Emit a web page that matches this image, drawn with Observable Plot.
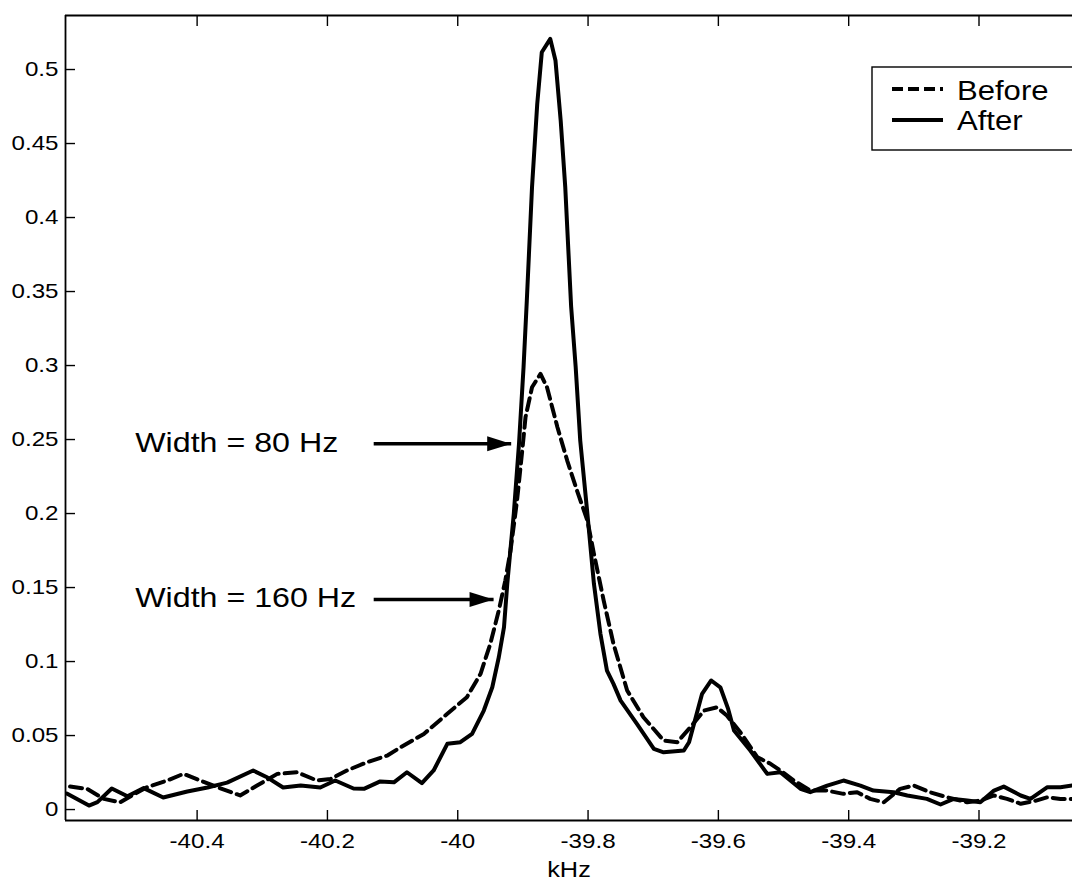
<!DOCTYPE html>
<html><head><meta charset="utf-8">
<script src="https://cdn.jsdelivr.net/npm/d3@7"></script>
<script src="https://cdn.jsdelivr.net/npm/@observablehq/plot@0.6"></script>
<style>body{margin:0;background:#fff}#chart svg{display:block}</style>
</head><body><div id="chart"></div>
<script>
// ---- data ----
const xTicks = [-40.4, -40.2, -40, -39.8, -39.6, -39.4, -39.2];
const yTicks = [0, 0.05, 0.1, 0.15, 0.2, 0.25, 0.3, 0.35, 0.4, 0.45, 0.5];
const xDomain = [-40.602, -39.0565];
const yDomain = [-0.0074, 0.5365];
const xLabel = "kHz";
const seriesNames = ["Before", "After"];

const beforeX = [-40.595,-40.569,-40.543,-40.518,-40.500,-40.477,-40.446,-40.421,-40.395,-40.369,-40.334,-40.308,-40.277,-40.247,-40.216,-40.195,-40.170,-40.139,-40.108,-40.088,-40.052,-40.016,-39.986,-39.965,-39.950,-39.937,-39.927,-39.919,-39.909,-39.901,-39.896,-39.886,-39.873,-39.863,-39.847,-39.832,-39.817,-39.801,-39.791,-39.776,-39.761,-39.740,-39.715,-39.684,-39.663,-39.643,-39.622,-39.602,-39.587,-39.566,-39.540,-39.520,-39.505,-39.484,-39.459,-39.433,-39.408,-39.387,-39.367,-39.346,-39.321,-39.300,-39.275,-39.249,-39.218,-39.198,-39.177,-39.157,-39.136,-39.116,-39.095,-39.075,-39.057];
const beforeY = [0.0155,0.0140,0.0072,0.0049,0.0095,0.0151,0.0196,0.0241,0.0196,0.0151,0.0095,0.0162,0.0241,0.0252,0.0196,0.0207,0.0264,0.0320,0.0365,0.0420,0.0511,0.0647,0.0759,0.0917,0.1120,0.1345,0.1547,0.1750,0.2088,0.2426,0.2651,0.2853,0.2944,0.2853,0.2583,0.2358,0.2155,0.1953,0.1728,0.1412,0.1120,0.0804,0.0624,0.0466,0.0455,0.0556,0.0669,0.0691,0.0635,0.0520,0.0353,0.0309,0.0264,0.0196,0.0128,0.0128,0.0106,0.0117,0.0072,0.0049,0.0140,0.0162,0.0117,0.0083,0.0049,0.0061,0.0095,0.0072,0.0039,0.0056,0.0083,0.0072,0.0072];

const afterX = [-40.600,-40.566,-40.553,-40.531,-40.507,-40.482,-40.452,-40.415,-40.384,-40.354,-40.314,-40.292,-40.268,-40.241,-40.211,-40.188,-40.160,-40.144,-40.119,-40.098,-40.078,-40.055,-40.037,-40.016,-39.996,-39.978,-39.960,-39.947,-39.937,-39.929,-39.924,-39.914,-39.906,-39.899,-39.894,-39.886,-39.878,-39.871,-39.858,-39.850,-39.842,-39.835,-39.826,-39.819,-39.812,-39.801,-39.791,-39.781,-39.771,-39.761,-39.750,-39.725,-39.699,-39.684,-39.653,-39.645,-39.625,-39.611,-39.597,-39.585,-39.576,-39.551,-39.525,-39.505,-39.474,-39.459,-39.433,-39.408,-39.382,-39.362,-39.331,-39.310,-39.280,-39.259,-39.239,-39.218,-39.198,-39.177,-39.162,-39.136,-39.121,-39.095,-39.075,-39.057];
const afterY = [0.0108,0.0027,0.0050,0.0142,0.0090,0.0145,0.0081,0.0122,0.0149,0.0182,0.0264,0.0216,0.0149,0.0162,0.0149,0.0196,0.0142,0.0140,0.0190,0.0184,0.0252,0.0178,0.0264,0.0444,0.0455,0.0511,0.0669,0.0826,0.1029,0.1232,0.1525,0.1998,0.2471,0.2989,0.3439,0.4205,0.4768,0.5117,0.5207,0.5061,0.4655,0.4205,0.3400,0.2989,0.2493,0.1998,0.1525,0.1187,0.0939,0.0849,0.0736,0.0579,0.0410,0.0387,0.0399,0.0455,0.0782,0.0872,0.0826,0.0680,0.0534,0.0399,0.0241,0.0252,0.0140,0.0117,0.0162,0.0196,0.0162,0.0128,0.0117,0.0095,0.0072,0.0034,0.0072,0.0061,0.0049,0.0128,0.0155,0.0095,0.0072,0.0151,0.0151,0.0162];

const noteText = ["Width = 80 Hz", "Width = 160 Hz"];
const noteX = [-40.495, -40.495];
const noteY = [0.2476, 0.1428];
const arrowX1 = [-40.129, -40.129];
const arrowX2 = [-39.918, -39.945];
const arrowY = [0.2471, 0.1419];

// ---- build ----
const before = beforeX.map((x, i) => ({x, y: beforeY[i]}));
const after = afterX.map((x, i) => ({x, y: afterY[i]}));
const notes = noteText.map((t, i) => ({t, x: noteX[i], y: noteY[i]}));
const arrows = arrowX1.map((x1, i) => ({x1, x2: arrowX2[i], y: arrowY[i]}));

const headSymbol = {
  draw(ctx) { ctx.moveTo(0, 0); ctx.lineTo(-24, -7.5); ctx.lineTo(-24, 7.5); ctx.closePath(); }
};

const fmtY = d => String(+d.toFixed(2));
const fmtX = d => String(+d.toFixed(1));

const plot = Plot.plot({
  width: 1072,
  height: 882,
  marginLeft: 65,
  marginRight: 0,
  marginTop: 15,
  marginBottom: 62,
  style: {fontFamily: "'Liberation Sans', Arial, sans-serif", fontSize: "21px", background: "#fff", color: "#000"},
  x: {domain: xDomain},
  y: {domain: yDomain},
  marks: [
    Plot.axisY({ticks: yTicks, anchor: "left", tickSize: -10, tickPadding: 17, tickFormat: fmtY, label: null, strokeWidth: 1.4}),
    Plot.axisX({ticks: xTicks, anchor: "bottom", tickSize: -10, tickPadding: 23, tickFormat: fmtX, label: null, strokeWidth: 1.4}),
    Plot.axisX({ticks: xTicks, anchor: "top", tickSize: -10, tickFormat: () => "", label: null, strokeWidth: 1.4}),
    Plot.ruleX([xDomain[0]], {stroke: "#000", strokeWidth: 1.8}),
    Plot.ruleY([yDomain[0], yDomain[1]], {stroke: "#000", strokeWidth: 1.8}),
    Plot.line(before, {x: "x", y: "y", stroke: "#000", strokeWidth: 4, strokeDasharray: "12,6", clip: true}),
    Plot.line(after, {x: "x", y: "y", stroke: "#000", strokeWidth: 4, clip: true}),
    Plot.text(notes, {x: "x", y: "y", text: "t", textAnchor: "start", lineAnchor: "middle", fontSize: 28, fill: "#000"}),
    Plot.link(arrows, {x1: "x1", x2: "x2", y1: "y", y2: "y", stroke: "#000", strokeWidth: 3.5}),
    Plot.dot(arrows, {x: "x2", y: "y", symbol: headSymbol, fill: "#000", stroke: "none"}),
    Plot.text([xLabel], {frameAnchor: "bottom", dy: 41, lineAnchor: "top", fontSize: 22, fill: "#000"})
  ]
});
document.getElementById("chart").appendChild(plot);

// ---- legend (inside the axes, top right) ----
const svg = d3.select(plot);
const lg = svg.append("g").attr("font-family", "'Liberation Sans', Arial, sans-serif")
  .attr("font-size", 27).attr("text-anchor", "start");
lg.append("rect").attr("x", 872).attr("y", 67).attr("width", 220).attr("height", 83)
  .attr("fill", "#fff").attr("stroke", "#000").attr("stroke-width", 1.4);
lg.append("line").attr("x1", 892).attr("x2", 943).attr("y1", 89).attr("y2", 89)
  .attr("stroke", "#000").attr("stroke-width", 3.8).attr("stroke-dasharray", "11,5");
lg.append("line").attr("x1", 892).attr("x2", 943).attr("y1", 120).attr("y2", 120)
  .attr("stroke", "#000").attr("stroke-width", 3.8);
lg.append("text").attr("x", 957).attr("y", 100).attr("text-anchor", "start").text(seriesNames[0]);
lg.append("text").attr("x", 957).attr("y", 130).attr("text-anchor", "start").text(seriesNames[1]);

// the scanned original is slightly stretched horizontally
plot.querySelectorAll("text").forEach(t => {
  const len = t.getComputedTextLength();
  if (len > 0) { t.setAttribute("textLength", (len * 1.15).toFixed(1)); t.setAttribute("lengthAdjust", "spacingAndGlyphs"); }
});
</script>
</body></html>
